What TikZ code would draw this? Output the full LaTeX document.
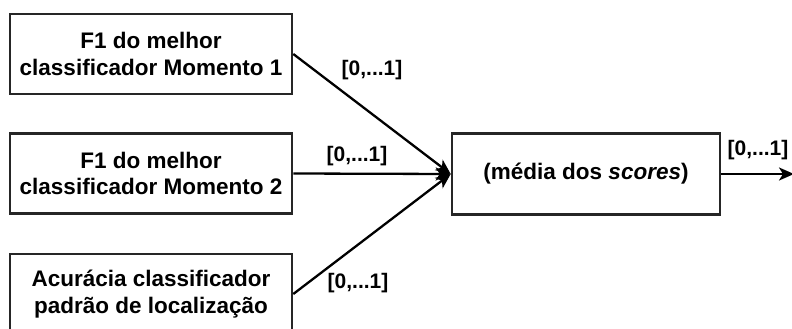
\documentclass[tikz,border=0pt]{standalone}
\usepackage{fontspec}
\setmainfont{Liberation Sans}
\usetikzlibrary{arrows.meta}

\tikzset{
    caixa/.style={draw=black!85, line width=2.6pt, minimum width=282pt, minimum height=80pt,
        inner sep=0pt, align=center, font=\fontsize{22.5}{26.5}\selectfont\bfseries},
    rotulo/.style={inner sep=0pt, font=\fontsize{21}{24}\selectfont\bfseries},
    seta/.style={line width=2.3pt, -{Stealth[length=15pt, width=13pt, inset=4pt]}}
}

\begin{document}
\begin{tikzpicture}[x=1pt, y=-1pt]
            \useasboundingbox (0, 0) rectangle (792, 329);
            \node[caixa](1) at (151, 54) {F1 do melhor\\classificador Momento 1};
            \node[caixa](2) at (151, 173.5) {F1 do melhor\\classificador Momento 2};
            \node[caixa](3) at (151, 294) {Acurácia classificador\\padrão de localização};
            \node[caixa, minimum width=268pt, minimum height=81pt](4) at (586, 174) {(média dos \textit{scores})};
            \coordinate(5) at (794, 174);
            \path[seta] (1.east) edge (4.west) (2.east) edge (4.west) (3.east) edge (4.west) (4) edge (5);
            \node[rotulo](6) at (372, 70) {[0,...1]};
            \node[rotulo](7) at (357, 156) {[0,...1]};
            \node[rotulo](8) at (358, 283) {[0,...1]};
            \node[rotulo](9) at (758, 150) {[0,...1]};
        \end{tikzpicture}
\end{document}
